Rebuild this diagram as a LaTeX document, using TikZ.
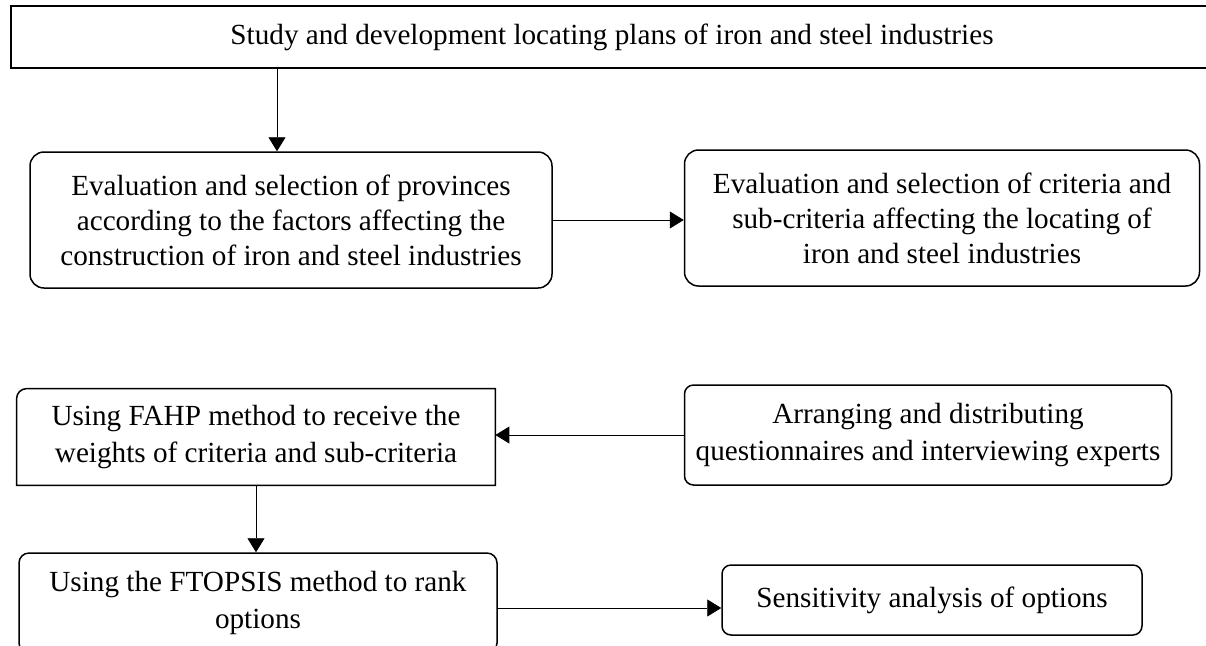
\documentclass[tikz,border=0pt]{standalone}
\usepackage{fontspec}
\setmainfont{Liberation Serif}
\usetikzlibrary{arrows.meta}

\begin{document}
\begin{tikzpicture}[x=0.5pt, y=-0.5pt,
    every node/.style={align=center, font=\fontsize{14.6}{17.5}\selectfont, inner sep=0pt},
    wide/.style={font=\fontsize{14.6}{18.5}\selectfont},
    box/.style={draw, line width=0.75pt},
    roundbox/.style={box, rounded corners=#1},
    arr/.style={-{Triangle[length=7pt, width=8.5pt]}, line width=0.45pt}]
    \useasboundingbox (0,0) rectangle (1206,645);
    \clip (0,0) rectangle (1206,645);

    \node[box, minimum width=601pt, minimum height=31pt] (study) at (612,37)
        {Study and development locating plans of iron and steel industries};

    \node[roundbox=7pt, minimum width=261pt, minimum height=68pt] (evalprov) at (291,220)
        {Evaluation and selection of provinces\\according to the factors affecting the\\construction of iron and steel industries};
    \node[roundbox=7pt, minimum width=257.5pt, minimum height=68pt] (evalcrit) at (942,218)
        {Evaluation and selection of criteria and\\sub-criteria affecting the locating of\\iron and steel industries};

    \node[wide, minimum width=239pt, minimum height=48pt] (fahp) at (256,437)
        {Using FAHP method to receive the\\weights of criteria and sub-criteria};
    \draw[box] (fahp.south west) -- ([yshift=-5pt]fahp.north west)
        arc[start angle=180, end angle=90, radius=5pt] -- (fahp.north east)
        -- (fahp.south east) -- cycle; % only top left is round
    \node[roundbox=4.5pt, wide, minimum width=243.5pt, minimum height=50pt] (arrange) at (928,435)
        {Arranging and distributing\\questionnaires and interviewing experts};

    \node[roundbox=5pt, wide, minimum width=239pt, minimum height=50pt] (ftopsis) at (258,603)
        {Using the FTOPSIS method to rank\\options};
    \node[roundbox=4.5pt, minimum width=210pt, minimum height=35pt] (sens) at (932,600)
        {Sensitivity analysis of options};

    \draw[arr] ([xshift=-7pt]evalprov.north |- study.south) -- ([xshift=-7pt]evalprov.north);
    \draw[arr] (evalprov.east) -- (evalprov.east -| evalcrit.west);
    \draw[arr] (arrange.west) -- (arrange.west -| fahp.east);
    \draw[arr] (fahp.south) -- (fahp.south |- ftopsis.north);
    \draw[arr] ([yshift=-2.5pt]ftopsis.east) -- ([yshift=-2.5pt]ftopsis.east -| sens.west);
\end{tikzpicture}
\end{document}
